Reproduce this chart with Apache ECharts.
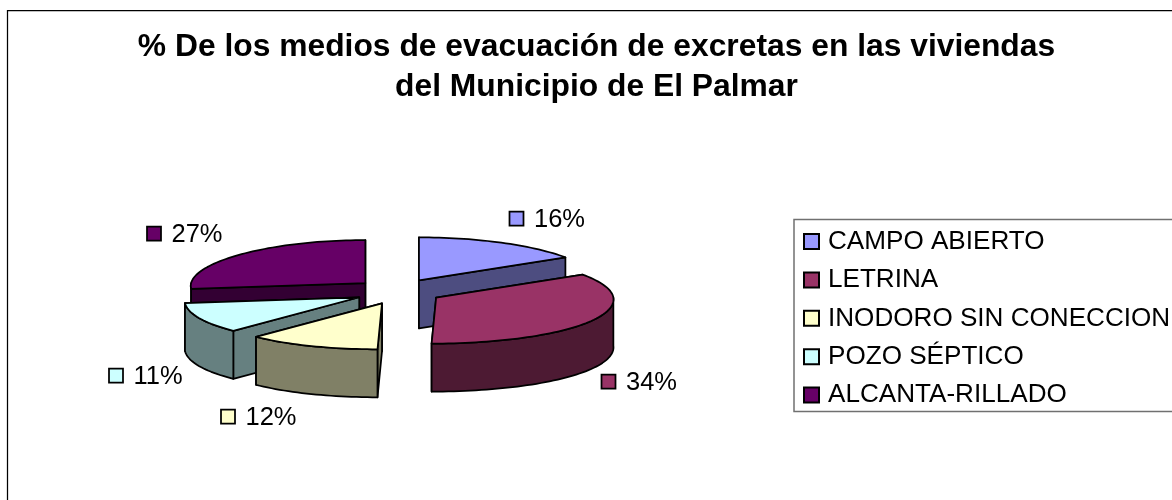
<!DOCTYPE html>
<html>
<head>
<meta charset="utf-8">
<style>
  html, body { margin: 0; padding: 0; background: #fff; }
  #chart { width: 1172px; height: 500px; }
</style>
<script src="https://cdn.jsdelivr.net/npm/echarts@6/dist/echarts.min.js"></script>
</head>
<body>
<div id="chart"></div>
<script>
const categories = ['CAMPO ABIERTO', 'LETRINA', 'INODORO SIN CONECCION', 'POZO SÉPTICO', 'ALCANTA-RILLADO']
const percents = [16, 34, 12, 11, 27]
const topColors = ['#9999FF', '#993366', '#FFFFCC', '#CCFFFF', '#660066']
const wallColors = ['#4D4D80', '#4D1A33', '#808066', '#668080', '#330033']
// back to front, the slices overlap each other
const drawOrder = [4, 0, 3, 2, 1]
// left of the key square and middle of the label, for each slice
const labelAnchors = [[509.5, 218.5], [601.5, 381.5], [221, 416.5], [109, 375.5], [147, 233.5]]

const font = '"Liberation Sans", Arial, sans-serif'
const pie = {
  cx: 398, cy: 291.5,
  aRight: 179.5, aLeft: 172, frontGrow: 0.05,
  bBack: 43, bFront: 46,
  depth: 48, explodeX: 43.5, explodeY: 12.7, tilt: 4.5
}

function toAngle(pct) {
  return pct / 100 * Math.PI * 2
}

// the picture has a little perspective: the front of the rim is wider and lower
function rimPoint(center, angle, drop) {
  const sin = Math.sin(angle)
  const cos = Math.cos(angle)
  const a = (sin > 0 ? pie.aRight : pie.aLeft) * (1 - pie.frontGrow * cos)
  const b = cos > 0 ? pie.bBack : pie.bFront
  return [
    center[0] + a * sin - pie.tilt * (1 - cos) / 2,
    center[1] - b * cos + drop
  ]
}

function arcPoints(center, from, to, drop) {
  const pts = []
  const steps = Math.max(2, Math.ceil((to - from) / 0.03))
  for (let i = 0; i <= steps; i++) {
    pts.push(rimPoint(center, from + (to - from) * i / steps, drop))
  }
  return pts
}

function sliceItem(index, value) {
  const before = percents.slice(0, index).reduce((sum, p) => sum + p, 0)
  const start = toAngle(before)
  const end = toAngle(before + value)
  const mid = (start + end) / 2
  const center = [
    pie.cx + pie.explodeX * Math.sin(mid),
    pie.cy - pie.explodeY * Math.cos(mid)
  ]
  const lineStyle = { stroke: '#000', lineWidth: 1.75, lineJoin: 'round' }
  const children = []

  // radial walls, the one further back goes first
  const radials = [start, end].sort((p, q) => Math.cos(q) - Math.cos(p))
  radials.forEach((angle) => {
    children.push({
      type: 'polygon',
      shape: { points: [
        center, rimPoint(center, angle, 0),
        rimPoint(center, angle, pie.depth), [center[0], center[1] + pie.depth]
      ] },
      style: { fill: wallColors[index], ...lineStyle }
    })
  })

  // outer wall, only the front half of the rim shows
  const wallFrom = Math.max(start, Math.PI / 2)
  const wallTo = Math.min(end, Math.PI * 1.5)
  if (wallTo > wallFrom) {
    children.push({
      type: 'polygon',
      shape: { points: arcPoints(center, wallFrom, wallTo, 0).concat(arcPoints(center, wallFrom, wallTo, pie.depth).reverse()) },
      style: { fill: wallColors[index], ...lineStyle }
    })
  }

  children.push({
    type: 'polygon',
    shape: { points: [center].concat(arcPoints(center, start, end, 0)) },
    style: { fill: topColors[index], ...lineStyle }
  })

  const anchor = labelAnchors[index]
  children.push({
    type: 'rect',
    shape: { x: anchor[0], y: anchor[1] - 7, width: 14, height: 14 },
    style: { fill: topColors[index], stroke: '#000', lineWidth: 1.75 }
  })
  children.push({
    type: 'text',
    style: {
      x: anchor[0] + 24.5, y: anchor[1] + 1,
      text: value + '%',
      font: '25.5px ' + font,
      fill: '#000',
      verticalAlign: 'middle'
    }
  })
  return { type: 'group', children }
}

const series = drawOrder.map((index) => ({
  name: categories[index],
  type: 'custom',
  coordinateSystem: 'none',
  data: [[percents[index]]],
  renderItem: (params, api) => sliceItem(index, api.value(0)),
  silent: true
}))

const chart = echarts.init(document.getElementById('chart'), null, { renderer: 'canvas' })
chart.setOption({
  animation: false,
  backgroundColor: '#fff',
  graphic: [{
    type: 'rect',
    shape: { x: 7.5, y: 10.5, width: 1400, height: 800 },
    style: { fill: 'none', stroke: '#000', lineWidth: 1.25 },
    z: -1
  }],
  title: {
    text: '% De los medios de evacuación de excretas en las viviendas\ndel Municipio de El Palmar',
    left: 596.5,
    top: 27.5,
    padding: 0,
    textAlign: 'center',
    textStyle: { fontFamily: font, fontSize: 31.8, fontWeight: 'bold', color: '#000', lineHeight: 39.5 }
  },
  legend: {
    orient: 'vertical',
    left: 794,
    top: 219.5,
    padding: [9, 9, 3.5, 9],
    borderColor: '#707070',
    borderWidth: 1.5,
    itemWidth: 15,
    itemHeight: 15,
    itemGap: 12.4,
    selectedMode: false,
    textStyle: { fontFamily: font, fontSize: 26.1, color: '#000', padding: [0, 0, 0, 4] },
    data: categories.map((name, i) => ({
      name,
      icon: 'rect',
      itemStyle: { color: topColors[i], borderColor: '#000', borderWidth: 2 }
    }))
  },
  series
})
</script>
</body>
</html>
